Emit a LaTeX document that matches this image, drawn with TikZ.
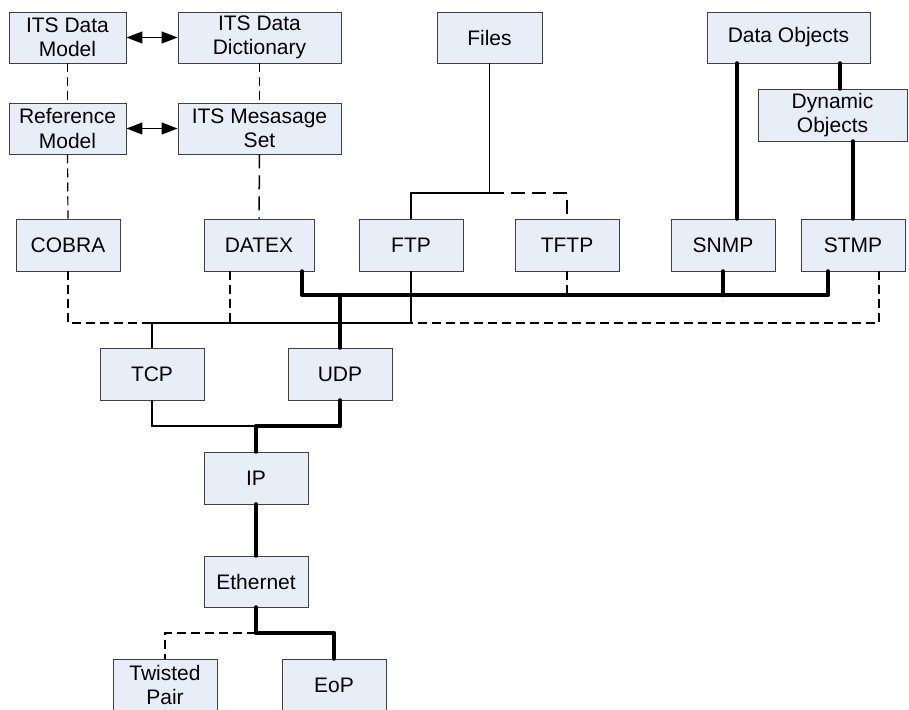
\documentclass[tikz,border=0pt]{standalone}
\usepackage{fontspec}
\setmainfont{Liberation Sans}
\usetikzlibrary{arrows.meta}
\definecolor{boxfill}{HTML}{E8EEF7}
\definecolor{boxline}{HTML}{404040}
\begin{document}
\begin{tikzpicture}[x=1pt,y=-1pt,
 box/.style={draw=boxline, line width=0.9pt, fill=boxfill, inner sep=0pt, align=center,
   font=\fontsize{21}{24.5}\selectfont, minimum height=51pt},
 thinl/.style={line width=1.3pt},
 thickl/.style={line width=4.5pt, line cap=round, line join=round},
 dsh/.style={line width=1.2pt, dash pattern=on 9pt off 5pt},
 ldsh/.style={line width=1.5pt, dash pattern=on 14pt off 7pt},
 biarrow/.style={line width=1.3pt, {Triangle[length=16pt,width=12pt]}-{Triangle[length=16pt,width=12pt]}}
]
\useasboundingbox (0,0) rectangle (909,709);
% nodes
\node[box, minimum width=117pt] (dm) at (67.5,37.5) {ITS Data\\Model};
\node[box, minimum width=163pt] (dd) at (259.5,37.5) {ITS Data\\Dictionary};
\node[box, minimum width=117pt] (rm) at (67.5,128.5) {Reference\\Model};
\node[box, minimum width=163pt] (ms) at (259.5,128.5) {ITS Mesasage\\Set};
\node[box, minimum width=105pt] (files) at (489.5,37.5) {Files};
\node[box, minimum width=163pt] (dobj) at (788.5,37.5) {Data Objects};
\node[box, minimum width=149pt, minimum height=52pt] (dyn) at (832.5,115) {Dynamic\\Objects};
\node[box, minimum width=104pt, minimum height=52pt] (cobra) at (68,245) {COBRA};
\node[box, minimum width=110pt, minimum height=52pt] (datex) at (259,245) {DATEX};
\node[box, minimum width=104pt, minimum height=52pt] (ftp) at (411,245) {FTP};
\node[box, minimum width=104pt, minimum height=52pt] (tftp) at (567,245) {TFTP};
\node[box, minimum width=104pt, minimum height=52pt] (snmp) at (723,245) {SNMP};
\node[box, minimum width=104pt, minimum height=52pt] (stmp) at (853,245) {STMP};
\node[box, minimum width=104pt, minimum height=52pt] (tcp) at (152,374) {TCP};
\node[box, minimum width=104pt, minimum height=52pt] (udp) at (340,374) {UDP};
\node[box, minimum width=104pt, minimum height=52pt] (ip) at (256,478) {IP};
\node[box, minimum width=104pt, minimum height=51pt] (eth) at (256,581.5) {Ethernet};
\node[box, minimum width=104pt, minimum height=52pt] (tp) at (165,685) {Twisted\\Pair};
\node[box, minimum width=104pt, minimum height=52pt] (eop) at (334,685) {EoP};
% helper coordinates
\coordinate (fj) at (489.5,193);
\coordinate (tbR) at (828,295);
\coordinate (bL) at (152,323);
\coordinate (bR) at (411,323);
\coordinate (ipj) at (256,426);
\coordinate (ethj) at (256,633);
\coordinate (dx) at ([xshift=-29pt]datex.south);
\coordinate (dxe) at ([xshift=43pt]datex.south);
\coordinate (sx) at ([xshift=26pt]stmp.south);
\coordinate (sxl) at ([xshift=-25pt]stmp.south);
\coordinate (sn1) at ([xshift=14pt]snmp.north);
\coordinate (dy1) at ([xshift=7.5pt]dyn.north);
% connectors
\draw[biarrow] (dm.east) -- (dd.west);
\draw[biarrow] (rm.east) -- (ms.west);
\draw[dsh] (dm.south) -- (rm.north);
\draw[dsh] (dd.south) -- (ms.north);
\draw[dsh] (rm.south) -- (cobra.north);
\draw[ldsh] (ms.south) -- (datex.north);
\draw[dsh] (cobra.south) |- (bL);
\draw[dsh] (dx) -- (dx |- bL);
\draw[dsh] (sx) |- (bR);
\draw[thinl] (tcp.north) |- (bR) -- (ftp.south);
\draw[thinl] (files.south) -- (fj);
\draw[thinl] (ftp.north) |- (fj);
\draw[ldsh] (fj) -| (tftp.north);
\draw[dsh] (tftp.south) -- (tftp.south |- tbR);
\draw[thickl] (dxe) |- (tbR) -- (sxl);
\draw[thickl] (snmp.south) -- (snmp.south |- tbR);
\draw[thickl] (udp.north) -- (udp.north |- tbR);
\draw[thickl] (sn1) -- (sn1 |- dobj.south);
\draw[thickl] (dy1) -- (dy1 |- dobj.south);
\draw[thickl] (stmp.north) -- (stmp.north |- dyn.south);
\draw[thinl] (tcp.south) |- (ipj);
\draw[thickl] (udp.south) |- (ipj) -- (ip.north);
\draw[thickl] (ip.south) -- (eth.north);
\draw[thickl] (eth.south) -- (ethj) -| (eop.north);
\draw[dsh] (ethj) -| (tp.north);
\end{tikzpicture}
\end{document}
